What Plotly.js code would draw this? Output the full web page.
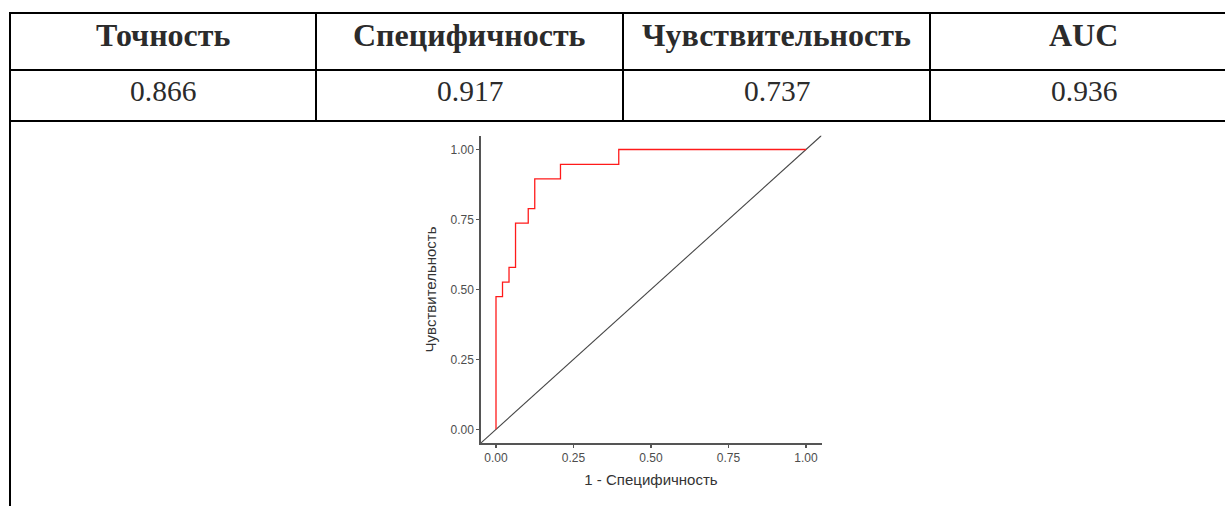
<!DOCTYPE html>
<html>
<head>
<meta charset="utf-8">
<script src="https://cdn.plot.ly/plotly-3.0.1.min.js"></script>
<style>
html,body{margin:0;padding:0;background:#fff;}
#chart{width:1225px;height:506px;}
</style>
</head>
<body>
<div id="chart"></div>
<script>
// ---- Table data ----
var headers = ["Точность", "Специфичность", "Чувствительность", "AUC"];
var metrics = ["0.866", "0.917", "0.737", "0.936"];

// ---- ROC curve data (1 - specificity, sensitivity) ----
var fpr = [0, 0, 0.021, 0.042, 0.063, 0.104, 0.125, 0.208, 0.396, 1];
var tpr = [0, 0.474, 0.526, 0.579, 0.737, 0.789, 0.895, 0.947, 1, 1];

// reference diagonal
var diagX = [-0.05, 1.05];
var diagY = [-0.05, 1.05];

var tickVals = [0, 0.25, 0.5, 0.75, 1];
var tickText = ["0.00", "0.25", "0.50", "0.75", "1.00"];

var W = 1225, H = 506;
function px(x){ return x / W; }
function py(y){ return 1 - y / H; }

// table geometry (pixels)
var colEdges = [10, 316, 623, 930, 1237];
var rowTop = 13, rowMid = 70, rowBot = 121;

var shapes = [];
var lineStyle = {color: "#000", width: 2};
[rowTop, rowMid, rowBot].forEach(function(y){
  shapes.push({type: "line", xref: "paper", yref: "paper",
    x0: px(colEdges[0] - 1), x1: px(colEdges[4] + 1), y0: py(y), y1: py(y), line: lineStyle});
});
colEdges.forEach(function(x, i){
  shapes.push({type: "line", xref: "paper", yref: "paper",
    x0: px(x), x1: px(x), y0: py(rowTop), y1: (i === 0 ? py(H + 5) : py(rowBot)), line: lineStyle});
});

var annotations = [];
headers.forEach(function(h, i){
  annotations.push({xref: "paper", yref: "paper",
    x: px((colEdges[i] + colEdges[i+1]) / 2), y: py(35),
    text: h, showarrow: false, xanchor: "center", yanchor: "middle",
    font: {family: "Liberation Serif, Times New Roman, serif", size: 32, color: "#2b2b2b", weight: "bold"}});
});
metrics.forEach(function(v, i){
  annotations.push({xref: "paper", yref: "paper",
    x: px((colEdges[i] + colEdges[i+1]) / 2), y: py(91.5),
    text: v, showarrow: false, xanchor: "center", yanchor: "middle",
    font: {family: "Liberation Serif, Times New Roman, serif", size: 29.5, color: "#2b2b2b"}});
});

var traces = [
  {x: diagX, y: diagY, mode: "lines", type: "scatter",
   line: {color: "#474747", width: 1.1}, hoverinfo: "skip", showlegend: false},
  {x: fpr, y: tpr, mode: "lines", type: "scatter",
   line: {color: "#ff1a1a", width: 1.3, shape: "hv"}, showlegend: false}
];

var axisFont = {family: "Liberation Sans, Arial, sans-serif", size: 12, color: "#4d4d4d"};
var titleFont = {family: "Liberation Sans, Arial, sans-serif", size: 15, color: "#333"};

var layout = {
  width: W, height: H,
  margin: {l: 0, r: 0, t: 0, b: 0},
  paper_bgcolor: "#fff", plot_bgcolor: "#fff",
  showlegend: false,
  xaxis: {
    domain: [px(480.5), px(821.5)],
    range: [-0.05, 1.05], showgrid: false, zeroline: false,
    showline: true, linecolor: "#555", linewidth: 1.2,
    ticks: "outside", ticklen: 3, tickwidth: 1.2, tickcolor: "#555",
    tickvals: tickVals, ticktext: tickText, tickfont: axisFont,
    title: {text: "1 - Специфичность", standoff: 10, font: titleFont},
    automargin: false, fixedrange: true
  },
  yaxis: {
    domain: [py(443.3), py(135.5)],
    range: [-0.05, 1.05], showgrid: false, zeroline: false,
    showline: true, linecolor: "#555", linewidth: 1.2,
    ticks: "outside", ticklen: 3, tickwidth: 1.2, tickcolor: "#555",
    tickvals: tickVals, ticktext: tickText, tickfont: axisFont,
    title: {text: "Чувствительность", standoff: 10, font: titleFont},
    automargin: false, fixedrange: true
  },
  shapes: shapes,
  annotations: annotations
};

Plotly.newPlot("chart", traces, layout, {displayModeBar: false, staticPlot: true});
</script>
</body>
</html>
